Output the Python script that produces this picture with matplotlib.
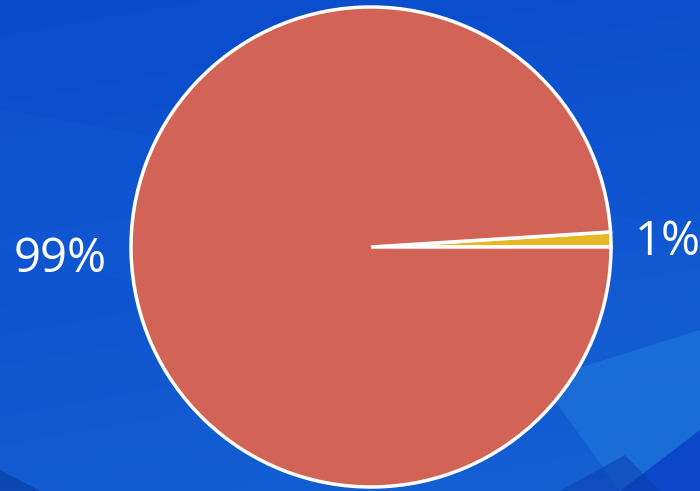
import matplotlib.pyplot as plt
import numpy as np
from matplotlib.colors import LinearSegmentedColormap
from matplotlib.patches import Polygon

labels = ['1%', '99%']
values = [1, 99]
colors = ['#e6b823', '#d16357']

plt.rcParams['font.family'] = ['Open Sans', 'DejaVu Sans']

fig = plt.figure(figsize=(7, 4.91), dpi=100)

# blue backdrop with soft diagonal bands
bg = fig.add_axes([0, 0, 1, 1])
bg.set_xlim(0, 700)
bg.set_ylim(491, 0)
bg.axis('off')
cmap = LinearSegmentedColormap.from_list('bg', ['#0a4ccd', '#0f55d0', '#1460d3'])
yy, xx = np.mgrid[0:491, 0:700]
grad = (yy / 491) * 0.8 + (xx / 700) * 0.2
bg.imshow(grad, cmap=cmap, extent=[0, 700, 491, 0], aspect='auto', zorder=0)
bg.add_patch(Polygon([[0, 110], [700, 230], [700, 420], [0, 250]], closed=True,
                     color='#2a80e0', alpha=0.07, lw=0, zorder=1))
bg.add_patch(Polygon([[540, 380], [700, 330], [700, 491], [620, 491]], closed=True,
                     color='#2a8ae0', alpha=0.35, lw=0, zorder=1))
bg.add_patch(Polygon([[0, 470], [0, 491], [40, 491]], closed=True,
                     color='#083a9e', alpha=0.6, lw=0, zorder=1))
bg.add_patch(Polygon([[620, 491], [700, 430], [700, 491]], closed=True,
                     color='#0a44c8', alpha=0.9, lw=0, zorder=1))
bg.add_patch(Polygon([[560, 491], [625, 455], [660, 491]], closed=True,
                     color='#0a3eaa', alpha=0.5, lw=0, zorder=1))

ax = fig.add_axes([131 / 700, 4 / 491, 480 / 700, 480 / 491])
wedges, texts = ax.pie(values, labels=labels, colors=colors, startangle=0,
                       counterclock=True, labeldistance=1.1,
                       wedgeprops=dict(edgecolor='white', linewidth=2.5),
                       textprops=dict(color='white', fontsize=34,
                                      fontweight='medium'))
for t in texts:
    x, y = t.get_position()
    t.set_position((x, y - 0.015))
ax.set_xlim(-1, 1)
ax.set_ylim(-1, 1)
ax.set_aspect('equal')
ax.axis('off')

fig.savefig('out.png', dpi=100)
